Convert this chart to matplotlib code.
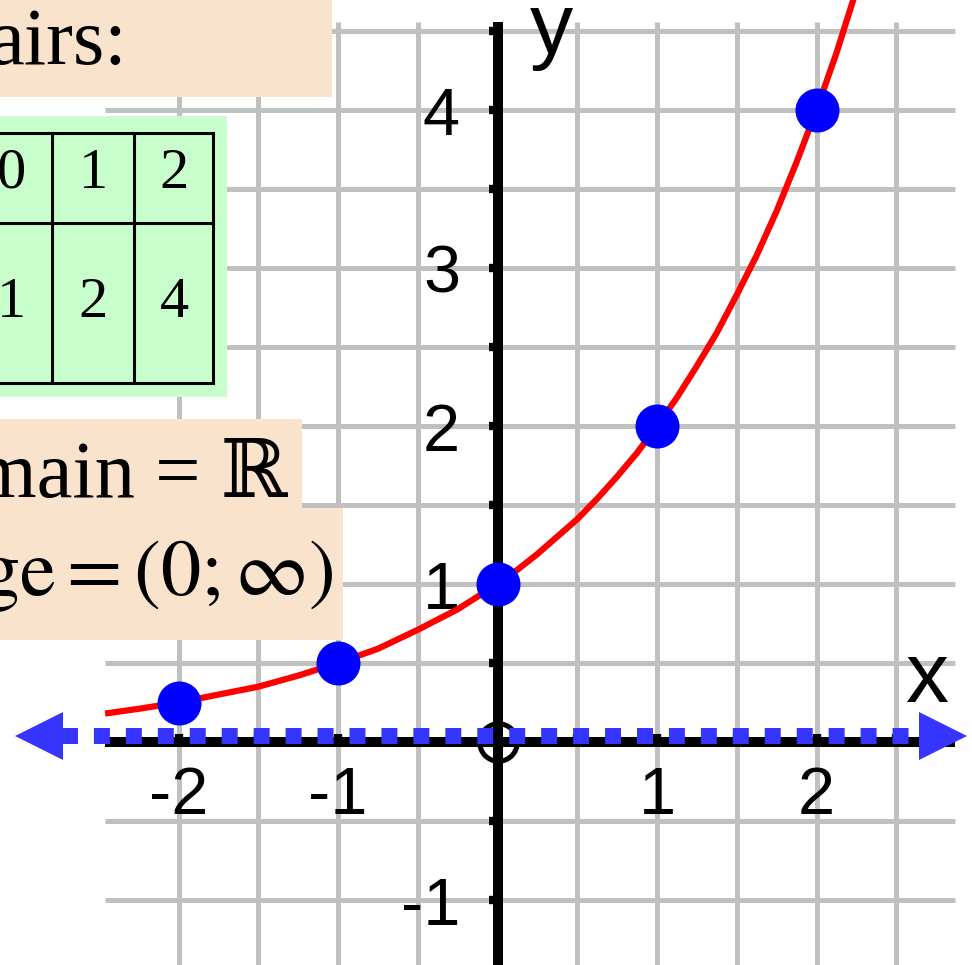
import numpy as np
import matplotlib
matplotlib.use("Agg")
import matplotlib.pyplot as plt
from matplotlib.patches import Rectangle

plt.rcParams['mathtext.fontset'] = 'stix'

# points of y = 2^x that are marked
pt_x = [-2, -1, 0, 1, 2]
pt_y = [0.25, 0.5, 1, 2, 4]

# curve
curve_x = [-2.46, -2.25, -2.0, -1.75, -1.5, -1.25, -1.0, -0.75, -0.5, -0.25,
           0.0, 0.125, 0.25, 0.375, 0.5, 0.625, 0.75, 0.875, 1.0, 1.125, 1.25,
           1.375, 1.5, 1.625, 1.75, 1.875, 2.0, 2.125, 2.25]
curve_y = [0.18, 0.21, 0.25, 0.30, 0.35, 0.42, 0.50, 0.59, 0.71, 0.84,
           1.00, 1.09, 1.19, 1.30, 1.41, 1.54, 1.68, 1.83, 2.00, 2.18, 2.38,
           2.59, 2.83, 3.08, 3.36, 3.67, 4.00, 4.36, 4.76]

xtick_vals = [-2, -1, 1, 2]
xtick_labels = ["-2", "-1", "1", "2"]
ytick_vals = [-1, 1, 2, 3, 4]
ytick_labels = ["-1", "1", "2", "3", "4"]

# visible part of the value table
table_top = ["0", "1", "2"]
table_bottom = ["1", "2", "4"]

peach = "#fae3cc"
green = "#c8fdcc"
grid_c = "#c0c0c0"
dot_blue = "#0000ff"
asym_blue = "#3535ff"

W, H = 972, 965
fig = plt.figure(figsize=(W / 100, H / 100), dpi=100)
ax = fig.add_axes([0, 0, 1, 1])
ax.set_xlim(-497.5 / 159.5, (W - 497.5) / 159.5)
ax.set_ylim(-(H - 742) / 158, 742 / 158)
ax.axis("off")

sans = "Liberation Sans"
serif = ["Liberation Serif", "DejaVu Serif"]

def fx(px):
    return px / W

def fy(py):
    return 1 - py / H

# grid
gx = [v for v in np.arange(-2, 2.51, 0.5) if v != 0]
gy = [v for v in np.arange(-1, 4.51, 0.5) if v != 0]
ax.vlines(gx, -1.6, 4.56, color=grid_c, lw=3.6, zorder=1)
ax.hlines(gy, -2.46, 2.87, color=grid_c, lw=3.6, zorder=1)

# axes
ax.hlines(0, -2.46, 2.87, color="black", lw=7.2, zorder=2)
ax.vlines(0, -1.6, 4.56, color="black", lw=7.2, zorder=2)
ax.hlines(gy, -0.055, 0, color="black", lw=6, zorder=2)
ax.vlines(gx, 0, 0.05, color="black", lw=6, zorder=2)
ax.plot(0, 0, marker="o", ms=27, mfc="none", mec="black", mew=3.6, zorder=2)

# asymptote y = 0 drawn with arrows
ax.plot([-2.73, 2.63], [0.035, 0.035], color=asym_blue, lw=11.5,
        dashes=(1, 1), dash_capstyle="butt", zorder=3)
ax.plot(-2.875, 0.035, marker="<", ms=34.5, color=asym_blue, mew=0, zorder=3)
ax.plot(2.79, 0.035, marker=">", ms=34.5, color=asym_blue, mew=0, zorder=3)

# curve and points
ax.plot(curve_x, curve_y, color="red", lw=4.5, solid_capstyle="butt",
        solid_joinstyle="round", zorder=4)
ax.plot(pt_x, pt_y, "o", color=dot_blue, ms=31.7, mew=0, zorder=8)

# tick labels
for v, s in zip(xtick_vals, xtick_labels):
    ax.text(v, -0.35, s, fontsize=48, family=sans, ha="center", va="center", zorder=3)
for v, s in zip(ytick_vals, ytick_labels):
    ax.text(-0.235, v - 0.05, s, fontsize=48, family=sans, ha="right", va="center", zorder=3)
ax.text(2.69, 0.39, "x", fontsize=62, family=sans, ha="center", va="center")
ax.text(0.34, 4.36, "y", fontsize=62, family=sans, ha="center", va="baseline")

# boxes at the left
for x0, y0, x1, y1, c in [(0, 0, 332, 97, peach), (0, 116, 227, 397, green),
                          (0, 419, 302, 508, peach), (0, 508, 343, 640, peach)]:
    ax.add_patch(Rectangle((fx(x0), fy(y1)), fx(x1 - x0), (y1 - y0) / H,
                           transform=ax.transAxes, color=c, lw=0, zorder=5))

ax.text(fx(127), fy(64), "airs:", fontsize=58, family=serif, ha="right",
        va="baseline", transform=ax.transAxes, zorder=6)
ax.text(fx(287), fy(497), "main = \u211d", fontsize=58, family=serif, ha="right",
        va="baseline", transform=ax.transAxes, zorder=6)
ax.text(fx(334), fy(595), r"$\mathrm{ge}=\left(0;\infty\right)$", fontsize=58, ha="right",
        va="baseline", transform=ax.transAxes, zorder=6)

# table
row_lines = [133, 223, 383]
col_lines = [52, 134, 213]
for r in row_lines:
    ax.plot([0, fx(213)], [fy(r), fy(r)], color="black", lw=2.2,
            transform=ax.transAxes, zorder=6)
for c in col_lines:
    ax.plot([fx(c), fx(c)], [fy(133), fy(383)], color="black", lw=2.2,
            transform=ax.transAxes, zorder=6)
col_centers = [11, 93, 174]
for cx, t, b in zip(col_centers, table_top, table_bottom):
    ax.text(fx(cx), fy(174), t, fontsize=42, family=serif, ha="center", va="center",
            transform=ax.transAxes, zorder=7)
    ax.text(fx(cx), fy(303), b, fontsize=42, family=serif, ha="center", va="center",
            transform=ax.transAxes, zorder=7)

fig.savefig("out.png", dpi=100)
